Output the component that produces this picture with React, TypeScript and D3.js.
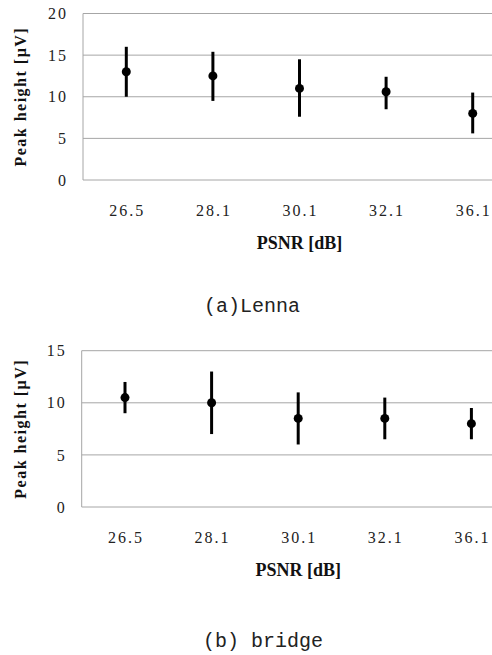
import React from "react";
import * as d3 from "d3";

// PSNR categories shared by both panels
const psnrLabels = ["26.5", "28.1", "30.1", "32.1", "36.1"];

// (a) Lenna
const lennaMean = [13, 12.5, 11, 10.6, 8];
const lennaLow = [10, 9.5, 7.6, 8.5, 5.6];
const lennaHigh = [16, 15.4, 14.5, 12.4, 10.5];
const lennaTicks = [0, 5, 10, 15, 20];

// (b) bridge
const bridgeMean = [10.5, 10, 8.5, 8.5, 8];
const bridgeLow = [9, 7, 6, 6.5, 6.5];
const bridgeHigh = [12, 13, 11, 10.5, 9.5];
const bridgeTicks = [0, 5, 10, 15];

const W = 492;
const H = 655;
const serif = "Liberation Serif, DejaVu Serif, serif";

type PanelProps = {
  top: number;
  bottom: number;
  left: number;
  yMax: number;
  ticks: number[];
  mean: number[];
  low: number[];
  high: number[];
  caption: string;
  captionX: number;
  captionY: number;
};

const Panel = ({ top, bottom, left, yMax, ticks, mean, low, high, caption, captionX, captionY }: PanelProps) => {
  const right = left + 433;
  const x = d3.scaleBand().domain(psnrLabels).range([left, right]);
  const y = d3.scaleLinear().domain([0, yMax]).range([bottom, top]);
  const cx = (d: string) => (x(d) ?? 0) + x.bandwidth() / 2;

  return (
    <g>
      {ticks.map((t) => (
        <g key={t}>
          {t > 0 && <line x1={left} x2={right} y1={y(t)} y2={y(t)} stroke="#a6a6a6" strokeWidth={1} />}
          <text
            x={left - 15}
            y={y(t)}
            dy="0.35em"
            textAnchor="end"
            style={{ fontFamily: serif }}
            fontSize={16}
            letterSpacing={2}
            fill="#222"
          >
            {t}
          </text>
        </g>
      ))}
      <line x1={left} x2={right} y1={bottom} y2={bottom} stroke="#a6a6a6" />
      <line x1={left} x2={left} y1={top} y2={bottom} stroke="#a6a6a6" />

      {psnrLabels.map((d, i) => (
        <g key={d}>
          <line x1={cx(d)} x2={cx(d)} y1={y(low[i])} y2={y(high[i])} stroke="#000" strokeWidth={3} />
          <circle cx={cx(d)} cy={y(mean[i])} r={4.5} fill="#000" />
          <text
            x={cx(d) + 1}
            y={bottom + 30}
            dy="0.35em"
            textAnchor="middle"
            style={{ fontFamily: serif }}
            fontSize={16}
            letterSpacing={2}
            fill="#222"
          >
            {d}
          </text>
        </g>
      ))}

      <text
        x={(left + right) / 2}
        y={bottom + 63}
        dy="0.35em"
        textAnchor="middle"
        style={{ fontFamily: serif }}
        fontWeight="bold"
        fontSize={18}
        fill="#111"
      >
        PSNR [dB]
      </text>
      <text
        transform={`translate(20,${(top + bottom) / 2}) rotate(-90)`}
        dy="0.35em"
        textAnchor="middle"
        style={{ fontFamily: serif }}
        fontWeight="bold"
        fontSize={16}
        letterSpacing={1.5}
        fill="#111"
      >
        Peak height [μV]
      </text>
      <text
        x={captionX}
        y={captionY}
        dy="0.35em"
        textAnchor="middle"
        style={{ fontFamily: "Liberation Mono, monospace" }}
        fontSize={20}
        fill="#222"
      >
        {caption}
      </text>
    </g>
  );
};

export default function App() {
  return (
    <div style={{ position: "absolute", left: 0, top: 0, width: W, height: H, overflow: "hidden", background: "#fff" }}>
      <svg width={W} height={H} style={{ display: "block" }}>
        <rect width={W} height={H} fill="#fff" />
        <Panel
          top={13.5}
          bottom={180}
          left={83}
          yMax={20}
          ticks={lennaTicks}
          mean={lennaMean}
          low={lennaLow}
          high={lennaHigh}
          caption="(a)Lenna"
          captionX={252}
          captionY={305}
        />
        <Panel
          top={350.7}
          bottom={507}
          left={81.7}
          yMax={15}
          ticks={bridgeTicks}
          mean={bridgeMean}
          low={bridgeLow}
          high={bridgeHigh}
          caption="(b) bridge"
          captionX={263}
          captionY={640}
        />
      </svg>
    </div>
  );
}
